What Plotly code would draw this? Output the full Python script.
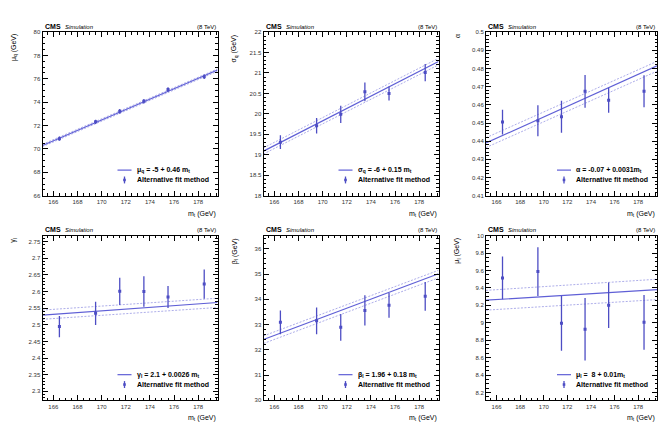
import plotly.graph_objects as go

# ---------------- data ----------------
mt = [166.5, 169.5, 171.5, 173.5, 175.5, 178.5]
x_ends = [165.1, 179.6]

mu_q = [70.88, 72.32, 73.22, 74.08, 75.08, 76.18]
mu_q_err = [0.18, 0.19, 0.2, 0.2, 0.2, 0.2]
mu_q_fit = [70.30, 76.75]
mu_q_hi = [70.40, 76.85]
mu_q_lo = [70.20, 76.65]

sigma_q = [19.31, 19.71, 19.99, 20.54, 20.50, 21.01]
sigma_q_err = [0.17, 0.19, 0.21, 0.23, 0.17, 0.21]
sigma_q_fit = [19.09, 21.28]
sigma_q_hi = [19.17, 21.36]
sigma_q_lo = [19.02, 21.20]

alpha = [0.4505, 0.4512, 0.4534, 0.4674, 0.4625, 0.4674]
alpha_err = [0.0068, 0.0085, 0.0088, 0.0090, 0.0069, 0.0088]
alpha_fit = [0.4390, 0.4814]
alpha_hi = [0.4419, 0.4839]
alpha_lo = [0.4365, 0.4785]

gamma_l = [2.4948, 2.5344, 2.6006, 2.6000, 2.5838, 2.6224]
gamma_l_err = [0.032, 0.035, 0.041, 0.046, 0.033, 0.044]
gamma_l_fit = [2.5294, 2.5670]
gamma_l_hi = [2.5443, 2.5799]
gamma_l_lo = [2.5166, 2.5520]

beta_l = [33.09, 33.15, 32.89, 33.56, 33.76, 34.12]
beta_l_err = [0.47, 0.53, 0.53, 0.60, 0.49, 0.57]
beta_l_fit = [32.41, 35.01]
beta_l_hi = [32.55, 35.15]
beta_l_lo = [32.25, 34.85]

mu_l = [9.515, 9.588, 8.994, 8.926, 9.202, 9.005]
mu_l_err = [0.246, 0.280, 0.316, 0.359, 0.261, 0.315]
mu_l_fit = [9.259, 9.380]
mu_l_hi = [9.372, 9.500]
mu_l_lo = [9.145, 9.266]

x_ticks = [166, 168, 170, 172, 174, 176, 178]
points_label = "Alternative fit method"

panels = [
    dict(y=mu_q, e=mu_q_err, fit=mu_q_fit, hi=mu_q_hi, lo=mu_q_lo,
         ytitle="μ<sub>q</sub> (GeV)", label="μ<sub>q</sub> = -5 + 0.46 m<sub>t</sub>",
         yr=[66, 80], dt=2, mdt=0.5),
    dict(y=sigma_q, e=sigma_q_err, fit=sigma_q_fit, hi=sigma_q_hi, lo=sigma_q_lo,
         ytitle="σ<sub>q</sub> (GeV)", label="σ<sub>q</sub> = -6 + 0.15 m<sub>t</sub>",
         yr=[18, 22], dt=0.5, mdt=0.1),
    dict(y=alpha, e=alpha_err, fit=alpha_fit, hi=alpha_hi, lo=alpha_lo,
         ytitle="α", label="α = -0.07 + 0.0031m<sub>t</sub>",
         yr=[0.41, 0.5], dt=0.01, mdt=0.002),
    dict(y=gamma_l, e=gamma_l_err, fit=gamma_l_fit, hi=gamma_l_hi, lo=gamma_l_lo,
         ytitle="γ<sub>l</sub>", label="γ<sub>l</sub> = 2.1 + 0.0026 m<sub>t</sub>",
         yr=[2.273, 2.768], dt=0.05, mdt=0.01),
    dict(y=beta_l, e=beta_l_err, fit=beta_l_fit, hi=beta_l_hi, lo=beta_l_lo,
         ytitle="β<sub>l</sub> (GeV)", label="β<sub>l</sub> = 1.96 + 0.18 m<sub>t</sub>",
         yr=[30, 36.52], dt=1, mdt=0.2),
    dict(y=mu_l, e=mu_l_err, fit=mu_l_fit, hi=mu_l_hi, lo=mu_l_lo,
         ytitle="μ<sub>l</sub> (GeV)", label="μ<sub>l</sub> =  8 + 0.01m<sub>t</sub>",
         yr=[8.11, 10], dt=0.2, mdt=0.05),
]

# ---------------- layout geometry (pixels) ----------------
W, H = 666, 425
cols = [(42.5, 217.5), (263.5, 438.5), (486, 657)]
rows = [(29.5, 195.5), (236, 403)]

LINE_C = "#5f5fd6"
PT_C = "#4d4dc4"
BAND_C = "#8a8ae0"
FONT = "Liberation Sans, Arial, sans-serif"


def px(x):
    return x / W


def py(y):
    return 1 - y / H


fig = go.Figure()
layout = dict(width=W, height=H, margin=dict(l=0, r=0, t=0, b=0),
              paper_bgcolor="white", plot_bgcolor="white", showlegend=False,
              font=dict(family=FONT, size=6, color="#222"))
annotations = []
shapes = []

for i, p in enumerate(panels):
    r, c = divmod(i, 3)
    x0, x1 = cols[c]
    y0, y1 = rows[r]
    n = "" if i == 0 else str(i + 1)
    xa, ya = "x" + n, "y" + n

    for band in (p["hi"], p["lo"]):
        fig.add_trace(go.Scatter(x=x_ends, y=band, mode="lines", xaxis=xa, yaxis=ya,
                                 line=dict(color=BAND_C, width=0.7, dash="2px,1.5px"),
                                 hoverinfo="skip"))
    fig.add_trace(go.Scatter(x=x_ends, y=p["fit"], mode="lines", xaxis=xa, yaxis=ya,
                             line=dict(color=LINE_C, width=1.2), name=p["label"]))
    fig.add_trace(go.Scatter(x=mt, y=p["y"], mode="markers", xaxis=xa, yaxis=ya,
                             marker=dict(color=PT_C, size=3, symbol="square"),
                             error_y=dict(type="data", array=p["e"], color=PT_C,
                                          thickness=1.3, width=0),
                             name=points_label))

    axis_common = dict(showline=True, linecolor="black", linewidth=1, mirror="allticks",
                       ticks="inside", ticklen=5, tickwidth=0.8, tickcolor="black",
                       showgrid=False, zeroline=False,
                       tickfont=dict(family=FONT, size=6, color="#333"))
    layout["xaxis" + n] = dict(axis_common, domain=[px(x0), px(x1)], anchor=ya,
                               range=x_ends, tickvals=x_ticks,
                               minor=dict(dtick=0.5, tick0=166, ticks="inside", ticklen=2.5,
                                          tickwidth=0.8, tickcolor="black"))
    layout["yaxis" + n] = dict(axis_common, domain=[py(y1), py(y0)], anchor=xa,
                               range=p["yr"], dtick=p["dt"],
                               minor=dict(dtick=p["mdt"], ticks="inside", ticklen=2.5,
                                          tickwidth=0.8, tickcolor="black"))

    # legend (drawn manually, ROOT style)
    lx0, lx1 = x1 - 100, x1 - 86
    ly1, ly2 = y1 - 26, y1 - 16
    shapes.append(dict(type="line", xref="paper", yref="paper",
                       x0=px(lx0), x1=px(lx1), y0=py(ly1), y1=py(ly1),
                       line=dict(color=LINE_C, width=1.2)))
    cx = (lx0 + lx1) / 2
    shapes.append(dict(type="line", xref="paper", yref="paper",
                       x0=px(cx), x1=px(cx), y0=py(ly2 - 3.5), y1=py(ly2 + 3.5),
                       line=dict(color=PT_C, width=1.3)))
    shapes.append(dict(type="rect", xref="paper", yref="paper",
                       x0=px(cx - 1.3), x1=px(cx + 1.3), y0=py(ly2 - 1.3), y1=py(ly2 + 1.3),
                       line=dict(width=0), fillcolor=PT_C))
    annotations.append(dict(x=px(lx1 + 3), y=py(ly1), xref="paper", yref="paper",
                            xanchor="left", yanchor="middle", showarrow=False,
                            text="<b>" + p["label"] + "</b>",
                            font=dict(family=FONT, size=7, color="black")))
    annotations.append(dict(x=px(lx1 + 3), y=py(ly2), xref="paper", yref="paper",
                            xanchor="left", yanchor="middle", showarrow=False,
                            text="<b>" + points_label + "</b>",
                            font=dict(family=FONT, size=7, color="black")))

    # CMS label
    annotations.append(dict(x=px(x0), y=py(y0 - 0.5), xref="paper", yref="paper",
                            xanchor="left", yanchor="bottom", showarrow=False,
                            text="<b>CMS</b>", font=dict(family=FONT, size=7, color="black")))
    annotations.append(dict(x=px(x0 + 20), y=py(y0 - 0.5), xref="paper", yref="paper",
                            xanchor="left", yanchor="bottom", showarrow=False,
                            text="<i>Simulation</i>", font=dict(family=FONT, size=6, color="black")))
    annotations.append(dict(x=px(x1), y=py(y0 - 0.5), xref="paper", yref="paper",
                            xanchor="right", yanchor="bottom", showarrow=False,
                            text="(8 TeV)", font=dict(family=FONT, size=6, color="black")))
    # y title
    annotations.append(dict(x=px(x0 - 29), y=py(y0), xref="paper", yref="paper",
                            xanchor="center", yanchor="top", textangle=-90, showarrow=False,
                            text=p["ytitle"], font=dict(family=FONT, size=7, color="black")))
    # x title
    annotations.append(dict(x=px(x1), y=py(y1 + 12), xref="paper", yref="paper",
                            xanchor="right", yanchor="top", showarrow=False,
                            text="m<sub>t</sub> (GeV)", font=dict(family=FONT, size=7, color="black")))

layout["annotations"] = annotations
layout["shapes"] = shapes
fig.update_layout(**layout)
fig.write_html("out.html")
